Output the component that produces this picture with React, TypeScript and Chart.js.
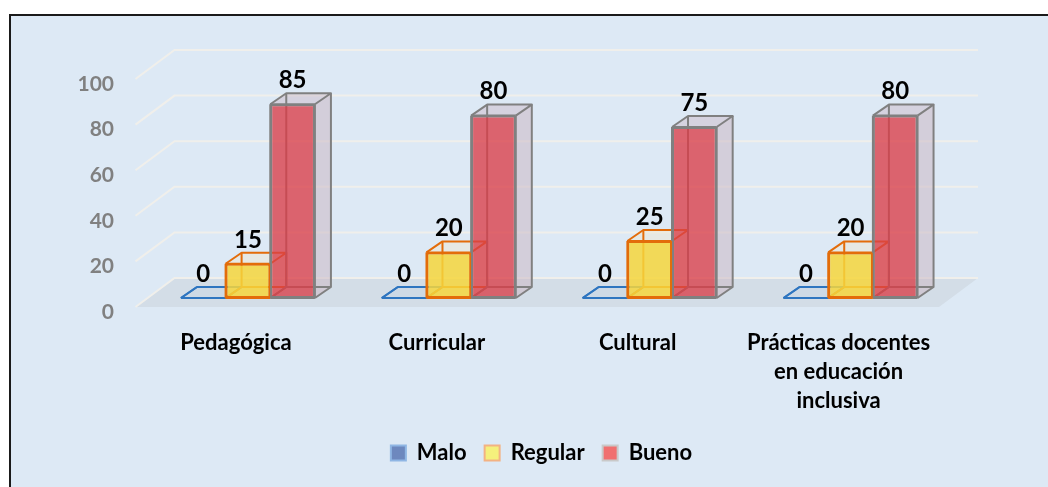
import React, { useEffect, useRef } from 'react';
import { Chart, registerables } from 'chart.js';

Chart.register(...registerables);

// ---- data ----
const categories: (string | string[])[] = [
  'Pedagógica',
  'Curricular',
  'Cultural',
  ['Prácticas docentes', 'en educación', 'inclusiva'],
];
const seriesNames = ['Malo', 'Regular', 'Bueno'];
const maloValues = [0, 0, 0, 0];
const regularValues = [15, 20, 25, 20];
const buenoValues = [85, 80, 75, 80];
const yTickValues = [0, 20, 40, 60, 80, 100];

// ---- styles ----
const FONT = 'Lato';
const boxStyles = [
  { front: 'rgba(68,114,196,0.6)', edge: '#2E75C0', top: 'rgba(200,214,228,0.5)', side: 'rgba(200,214,228,0.5)' },
  { front: 'rgba(246,214,60,0.85)', edge: '#E36C0A', top: 'rgba(236,232,214,0.55)', side: 'rgba(236,232,214,0.55)' },
  { front: 'rgba(218,62,72,0.78)', edge: '#808080', top: 'rgba(205,192,204,0.55)', side: 'rgba(205,189,200,0.6)' },
];
const legendStyles = [
  { fill: '#6D88BE', stroke: '#8FB6E4' },
  { fill: '#F5F07C', stroke: '#F3B283' },
  { fill: '#F07070', stroke: '#C9C9C9' },
];
const DEPTH = { dx: 16, dy: -11 };
const FRONT = { dx: -12, dy: 9 };
const BACK = { dx: 27, dy: -20 };
const LEGEND_LEFT = 132;

function poly(ctx: CanvasRenderingContext2D, pts: number[][]) {
  ctx.beginPath();
  ctx.moveTo(pts[0][0], pts[0][1]);
  for (let i = 1; i < pts.length; i++) ctx.lineTo(pts[i][0], pts[i][1]);
  ctx.closePath();
}
function line(ctx: CanvasRenderingContext2D, pts: number[][]) {
  ctx.beginPath();
  ctx.moveTo(pts[0][0], pts[0][1]);
  for (let i = 1; i < pts.length; i++) ctx.lineTo(pts[i][0], pts[i][1]);
  ctx.stroke();
}

const threeDPlugin = {
  id: 'threeD',
  afterLayout(chart: any) {
    const lg = chart.legend;
    if (lg) {
      const right = lg.right;
      lg.left = LEGEND_LEFT;
      lg.width = right - LEGEND_LEFT;
      lg.right = right;
    }
  },
  beforeDatasetsDraw(chart: any) {
    const { ctx, chartArea: a, scales } = chart;
    const ys = scales.y;
    const y0 = ys.getPixelForValue(0);
    ctx.save();
    // floor
    poly(ctx, [
      [a.left + FRONT.dx, y0 + FRONT.dy],
      [a.right + FRONT.dx, y0 + FRONT.dy],
      [a.right + BACK.dx, y0 + BACK.dy],
      [a.left + BACK.dx, y0 + BACK.dy],
    ]);
    ctx.fillStyle = '#D3DDE7';
    ctx.fill();
    // gridlines (left wall + back wall)
    ctx.strokeStyle = '#F0EFEB';
    ctx.lineWidth = 2;
    yTickValues.forEach((v) => {
      const y = ys.getPixelForValue(v);
      line(ctx, [
        [a.left + FRONT.dx, y + FRONT.dy],
        [a.left + BACK.dx, y + BACK.dy],
        [a.right + BACK.dx, y + BACK.dy],
      ]);
    });
    // box faces and edges
    ctx.lineJoin = 'round';
    chart.data.datasets.forEach((_ds: any, di: number) => {
      const meta = chart.getDatasetMeta(di);
      const st = boxStyles[di];
      meta.data.forEach((el: any) => {
        const p = el.getProps(['x', 'y', 'base', 'width'], true);
        const l = p.x - p.width / 2;
        const r = p.x + p.width / 2;
        const t = Math.min(p.y, p.base);
        const b = Math.max(p.y, p.base);
        const { dx, dy } = DEPTH;
        ctx.fillStyle = st.side;
        poly(ctx, [[r, t], [r + dx, t + dy], [r + dx, b + dy], [r, b]]);
        ctx.fill();
        ctx.fillStyle = st.top;
        poly(ctx, [[l, t], [r, t], [r + dx, t + dy], [l + dx, t + dy]]);
        ctx.fill();
        ctx.strokeStyle = st.edge;
        ctx.lineWidth = 2;
        // hidden edges
        line(ctx, [[l, b], [l + dx, b + dy], [l + dx, t + dy]]);
        line(ctx, [[l + dx, b + dy], [r + dx, b + dy]]);
        // visible edges
        line(ctx, [[l, t], [l + dx, t + dy], [r + dx, t + dy], [r, t]]);
        line(ctx, [[r + dx, t + dy], [r + dx, b + dy], [r, b]]);
        line(ctx, [[l, t], [r, t]]);
        line(ctx, [[l, b], [r, b]]);
        if (b - t > 0.5) {
          line(ctx, [[l, t], [l, b]]);
          line(ctx, [[r, t], [r, b]]);
        }
      });
    });
    ctx.restore();
  },
  afterDatasetsDraw(chart: any) {
    const { ctx } = chart;
    ctx.save();
    ctx.fillStyle = '#000';
    ctx.font = `bold 24px ${FONT}`;
    ctx.textAlign = 'center';
    ctx.textBaseline = 'middle';
    chart.data.datasets.forEach((ds: any, di: number) => {
      const meta = chart.getDatasetMeta(di);
      meta.data.forEach((el: any, i: number) => {
        const p = el.getProps(['x', 'y', 'base'], true);
        const t = Math.min(p.y, p.base);
        ctx.fillText(String(ds.data[i]), p.x, t - 24);
      });
    });
    ctx.restore();
  },
};

export default function App() {
  const canvasRef = useRef<HTMLCanvasElement | null>(null);

  useEffect(() => {
    if (!canvasRef.current) return;
    Chart.defaults.font.family = FONT;
    const chart = new Chart(canvasRef.current, {
      type: 'bar',
      data: {
        labels: categories as any,
        datasets: [maloValues, regularValues, buenoValues].map((vals, i) => ({
          label: seriesNames[i],
          data: vals,
          backgroundColor: boxStyles[i].front,
          borderColor: boxStyles[i].edge,
          borderWidth: i === 0 ? 0 : 2,
          borderSkipped: false,
          categoryPercentage: 0.667,
          barPercentage: 1.0,
        })),
      },
      options: {
        responsive: false,
        animation: false,
        layout: { padding: { top: 70, left: 0, right: 97, bottom: 13 } },
        plugins: {
          tooltip: { enabled: false },
          legend: {
            position: 'bottom',
            labels: {
              boxWidth: 15,
              boxHeight: 15,
              padding: 18,
              color: '#000',
              font: { family: FONT, weight: 'bold', size: 22 },
              generateLabels: () =>
                seriesNames.map((n, i) => ({
                  text: n,
                  fillStyle: legendStyles[i].fill,
                  strokeStyle: legendStyles[i].stroke,
                  lineWidth: 2,
                  hidden: false,
                  datasetIndex: i,
                  fontColor: '#000',
                })),
            },
          },
        },
        scales: {
          x: {
            offset: true,
            grid: { display: false, drawTicks: false },
            border: { display: false },
            ticks: {
              color: '#000',
              font: { family: FONT, weight: 'bold', size: 22, lineHeight: 1.32 },
              padding: 30,
              labelOffset: -12,
              maxRotation: 0,
              autoSkip: false,
            },
            afterFit: (s: any) => {
              s.height = 126;
            },
          },
          y: {
            min: 0,
            max: 100,
            grid: { display: false, drawTicks: false },
            border: { display: false },
            ticks: {
              stepSize: 20,
              color: '#808080',
              font: { family: FONT, weight: 'bold', size: 21 },
              padding: 33.5,
              labelOffset: 14,
            },
            afterFit: (s: any) => {
              s.width = 147.5;
            },
          },
        },
      } as any,
      plugins: [threeDPlugin],
    });
    return () => chart.destroy();
  }, []);

  return (
    <div style={{ position: 'absolute', left: 0, top: 0, width: 1048, height: 487, background: '#fff', overflow: 'hidden' }}>
      <div
        style={{
          position: 'absolute',
          left: 9,
          top: 14,
          width: 1100,
          height: 600,
          border: '2px solid #1a1a1a',
          background: '#DDE9F5',
        }}
      />
      <canvas ref={canvasRef} width={1048} height={487} style={{ position: 'absolute', left: 0, top: 0 }} />
    </div>
  );
}
